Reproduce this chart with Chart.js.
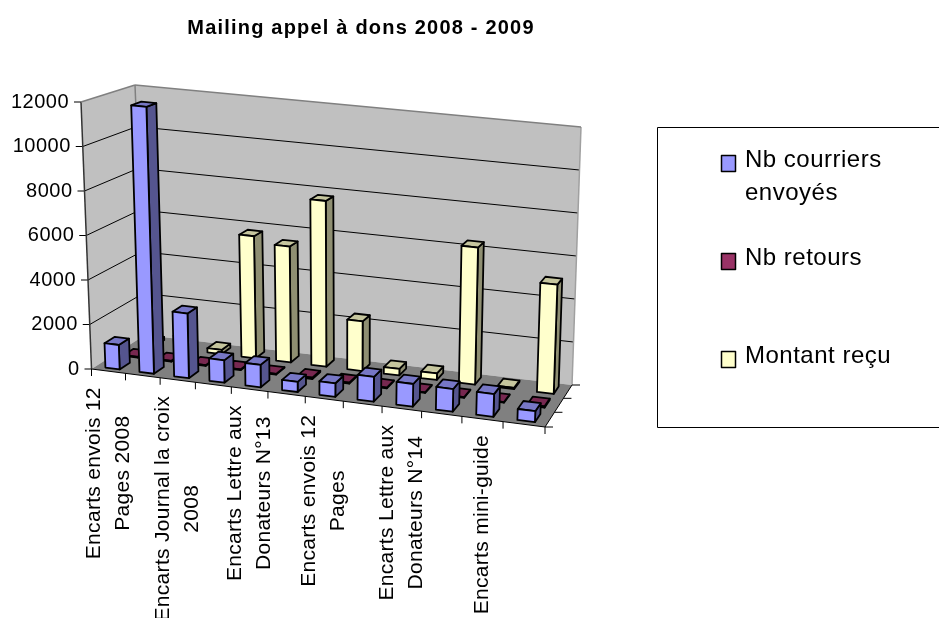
<!DOCTYPE html>
<html>
<head>
<meta charset="utf-8">
<title>Mailing appel à dons 2008 - 2009</title>
<script src="https://cdn.jsdelivr.net/npm/chart.js@4/dist/chart.umd.js"></script>
<style>
  html, body { margin: 0; padding: 0; background: #fff; overflow: hidden; }
  canvas { display: block; }
</style>
</head>
<body>
<canvas id="chart" width="939" height="618"></canvas>
<script>
const chartTitle = 'Mailing appel à dons 2008 - 2009';
// only every other category label is readable in the picture
const categories = [
  ['Encarts envois 12', 'Pages 2008'], '',
  ['Encarts Journal la croix', '2008'], '',
  ['Encarts Lettre aux', 'Donateurs N°13'], '',
  ['Encarts envois 12', 'Pages'], '',
  ['Encarts Lettre aux', 'Donateurs N°14'], '',
  ['Encarts mini-guide'], ''
];
const seriesNames = ['Nb courriers envoyés', 'Nb retours', 'Montant reçu'];
const courriers = [1100, 12000, 2900, 1000, 1000, 450, 600, 1100, 1000, 1000, 1000, 480];
const retours = [30, 40, 30, 40, 30, 60, 40, 30, 30, 30, 30, 60];
const montants = [150, 600, 200, 5700, 5400, 7700, 2300, 300, 300, 6300, 60, 5000];
const yTicks = [0, 2000, 4000, 6000, 8000, 10000, 12000];

const colors = [
  { front: '#9999ff', side: '#55558f', top: '#7777c6' },
  { front: '#993366', side: '#561d39', top: '#772850' },
  { front: '#ffffcc', side: '#8f8f72', top: '#c6c69e' }
];

// corners of the 3D box on the page: floor, and how far up each corner goes
const floorQuad = [[91.5, 369], [545, 427], [572, 385], [145, 335]];
const riseQuad = [[-10.5, -267], [10, -275], [9, -258], [-10, -250]];
const barDepth = 0.56;

function homography(q) {
  const [p0, p1, p2, p3] = q;
  const dx1 = p1[0] - p2[0], dx2 = p3[0] - p2[0], sx = p0[0] - p1[0] + p2[0] - p3[0];
  const dy1 = p1[1] - p2[1], dy2 = p3[1] - p2[1], sy = p0[1] - p1[1] + p2[1] - p3[1];
  const den = dx1 * dy2 - dx2 * dy1;
  const g = (sx * dy2 - dx2 * sy) / den;
  const h = (dx1 * sy - sx * dy1) / den;
  return (u, w) => {
    const d = g * u + h * w + 1;
    return [
      ((p1[0] - p0[0] + g * p1[0]) * u + (p3[0] - p0[0] + h * p3[0]) * w + p0[0]) / d,
      ((p1[1] - p0[1] + g * p1[1]) * u + (p3[1] - p0[1] + h * p3[1]) * w + p0[1]) / d
    ];
  };
}
const floorAt = homography(floorQuad);

// u along categories, w into the depth, v up the value axis (all 0..1)
function project(u, w, v) {
  const a = floorAt(u, w);
  const r = [0, 1].map((k) =>
    (1 - u) * (1 - w) * riseQuad[0][k] + u * (1 - w) * riseQuad[1][k] +
    u * w * riseQuad[2][k] + (1 - u) * w * riseQuad[3][k]);
  return [a[0] + r[0] * v, a[1] + r[1] * v];
}

function poly(ctx, pts, fill, stroke, lw) {
  ctx.beginPath();
  pts.forEach((p, i) => i ? ctx.lineTo(p[0], p[1]) : ctx.moveTo(p[0], p[1]));
  ctx.closePath();
  if (fill) { ctx.fillStyle = fill; ctx.fill(); }
  if (stroke) { ctx.strokeStyle = stroke; ctx.lineWidth = lw; ctx.lineJoin = 'round'; ctx.stroke(); }
}

function line(ctx, a, b, color, lw) {
  ctx.beginPath();
  ctx.moveTo(a[0], a[1]);
  ctx.lineTo(b[0], b[1]);
  ctx.strokeStyle = color;
  ctx.lineWidth = lw;
  ctx.stroke();
}

function text(ctx, str, x, y, font, spacing, align, baseline) {
  ctx.font = font;
  ctx.letterSpacing = spacing + 'px';
  ctx.textAlign = align;
  ctx.textBaseline = baseline;
  ctx.fillStyle = '#000';
  ctx.fillText(str, x, y);
  ctx.letterSpacing = '0px';
}

const box3d = {
  id: 'box3d',
  beforeDatasetsDraw(chart) {
    const ctx = chart.ctx;
    const { left, right, top, bottom } = chart.chartArea;
    const xs = chart.scales.x, ys = chart.scales.y;
    const toU = (px) => (px - left) / (right - left);
    const toV = (py) => (bottom - py) / (bottom - top);

    // walls and floor
    poly(ctx, [project(0, 0, 0), project(0, 1, 0), project(0, 1, 1), project(0, 0, 1)], '#c0c0c0');
    poly(ctx, [project(0, 1, 0), project(1, 1, 0), project(1, 1, 1), project(0, 1, 1)], '#c0c0c0');
    poly(ctx, [project(0, 0, 0), project(1, 0, 0), project(1, 1, 0), project(0, 1, 0)], '#808080');

    // gridlines and value axis
    ys.ticks.forEach((t) => {
      const v = toV(ys.getPixelForValue(t.value));
      if (t.value > 0 && t.value < ys.max) {
        line(ctx, project(0, 0, v), project(0, 1, v), '#000', 1);
        line(ctx, project(0, 1, v), project(1, 1, v), '#000', 1);
      }
      const p = project(0, 0, v);
      line(ctx, [p[0] - 7, p[1]], p, '#000', 1);
      text(ctx, String(t.value), p[0] - 12, p[1], '20px "Liberation Sans"', 0.5, 'right', 'middle');
    });
    line(ctx, project(0, 0, 0), project(0, 0, 1), '#333', 1.5);
    line(ctx, project(0, 1, 0), project(0, 1, 1), '#808080', 1.5);
    line(ctx, project(1, 1, 0), project(1, 1, 1), '#a0a0a0', 1.5);
    line(ctx, project(0, 0, 1), project(0, 1, 1), '#808080', 1.5);
    line(ctx, project(0, 1, 1), project(1, 1, 1), '#808080', 1.5);

    // category axis along the front of the floor
    line(ctx, project(0, 0, 0), project(1, 0, 0), '#000', 1);
    const step = (right - left) / categories.length;
    for (let i = 0; i <= categories.length; i++) {
      const p = project(toU(left + i * step), 0, 0);
      line(ctx, p, [p[0], p[1] + 7], '#000', 1);
    }
    xs.ticks.forEach((t, i) => {
      const lines = [].concat(categories[i]);
      if (!lines[0]) return;
      const p = project(toU(xs.getPixelForTick(i)), 0, 0);
      ctx.font = '21px "Liberation Sans"';
      ctx.letterSpacing = '0.3px';
      const longest = Math.max(...lines.map((l) => ctx.measureText(l).width));
      lines.forEach((l, n) => {
        ctx.save();
        ctx.translate(p[0] + (n - (lines.length - 1) / 2) * 29, p[1] + 16 + longest / 2);
        ctx.rotate(-Math.PI / 2);
        text(ctx, l, 0, 0, '21px "Liberation Sans"', 0.3, 'center', 'middle');
        ctx.restore();
      });
    });

    // depth axis ticks on the right side of the floor
    line(ctx, project(1, 0, 0), project(1, 1, 0), '#000', 1);
    chart.data.datasets.concat([null]).forEach((d, i, all) => {
      const p = project(1, i / (all.length - 1), 0);
      line(ctx, p, [p[0] + 8, p[1]], '#000', 1);
    });

    // bars, back row first, each placed from the library's own bar elements
    const n = chart.data.datasets.length;
    for (let ds = n - 1; ds >= 0; ds--) {
      const c = colors[ds];
      const w0 = (ds + 0.5 - barDepth / 2) / n, w1 = (ds + 0.5 + barDepth / 2) / n;
      chart.getDatasetMeta(ds).data.forEach((bar) => {
        const u0 = toU(bar.x - bar.width / 2), u1 = toU(bar.x + bar.width / 2);
        const v0 = toV(bar.base), v1 = toV(bar.y);
        poly(ctx, [project(u1, w0, v0), project(u1, w1, v0), project(u1, w1, v1), project(u1, w0, v1)], c.side, '#000', 1.8);
        poly(ctx, [project(u0, w0, v1), project(u1, w0, v1), project(u1, w1, v1), project(u0, w1, v1)], c.top, '#000', 1.8);
        poly(ctx, [project(u0, w0, v0), project(u1, w0, v0), project(u1, w0, v1), project(u0, w0, v1)], c.front, '#000', 1.8);
      });
    }

    // title and legend
    text(ctx, chartTitle, 361, 28, 'bold 20px "Liberation Sans"', 1.2, 'center', 'middle');
    ctx.strokeStyle = '#000';
    ctx.lineWidth = 1;
    ctx.strokeRect(657.5, 127.5, 300, 300);
    const legendRows = [[['Nb courriers', 'envoyés'], 155.5], [['Nb retours'], 253.5], [['Montant reçu'], 351.5]];
    chart.data.datasets.forEach((d, i) => {
      const [rows, y] = legendRows[i];
      poly(ctx, [[721.5, y], [735.5, y], [735.5, y + 16], [721.5, y + 16]], d.backgroundColor, '#000', 1.5);
      rows.forEach((r, k) => text(ctx, r, 745, y + 5 + k * 33, '24px "Liberation Sans"', 0.5, 'left', 'middle'));
    });
    return false;
  }
};

new Chart(document.getElementById('chart'), {
  type: 'bar',
  data: {
    labels: categories,
    datasets: seriesNames.map((name, i) => ({
      label: name,
      data: [courriers, retours, montants][i],
      backgroundColor: colors[i].front,
      grouped: false,
      categoryPercentage: 1,
      barPercentage: 0.42
    }))
  },
  options: {
    responsive: false,
    animation: false,
    layout: { padding: { left: 91.5, right: 394, top: 102, bottom: 249 } },
    plugins: { legend: { display: false }, title: { display: false }, tooltip: { enabled: false } },
    scales: {
      x: { display: false, ticks: { autoSkip: false } },
      y: { display: false, min: 0, max: 12000, afterBuildTicks: (s) => { s.ticks = yTicks.map((value) => ({ value })); } }
    }
  },
  plugins: [box3d]
});
</script>
</body>
</html>
